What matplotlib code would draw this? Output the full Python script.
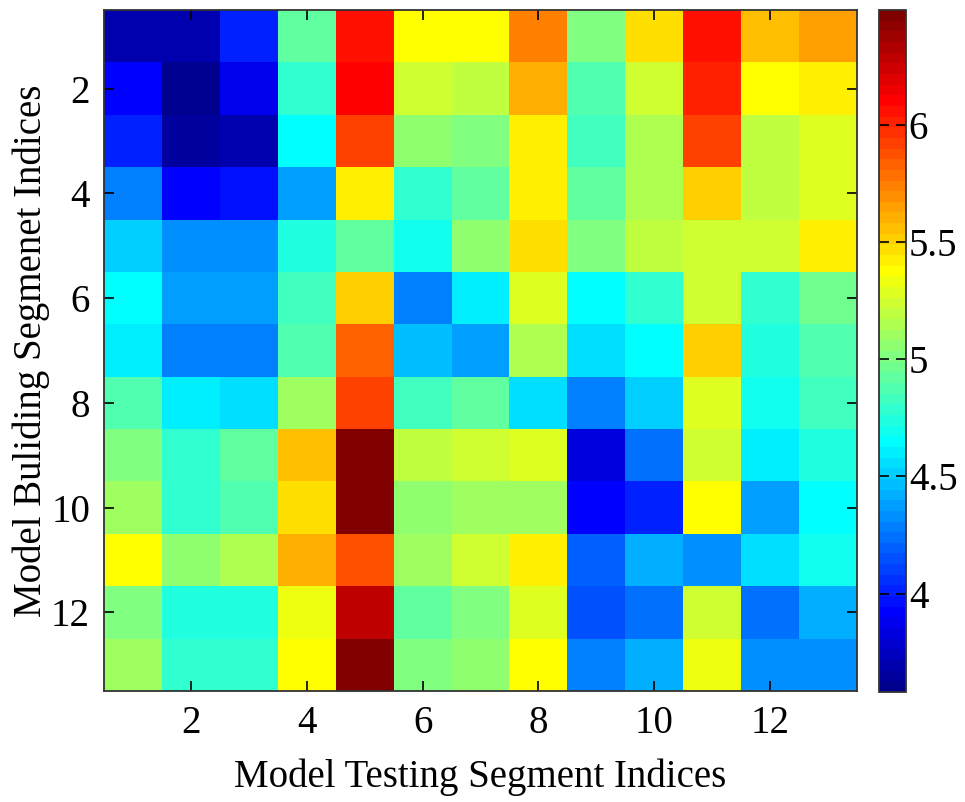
import numpy as np
import matplotlib
matplotlib.use("Agg")
import matplotlib.pyplot as plt
from matplotlib.colors import ListedColormap

plt.rcParams['font.family'] = ['Liberation Serif', 'DejaVu Serif']

# segment indices on both axes
building_idx = np.arange(1, 14)
testing_idx = np.arange(1, 14)

# score for (building segment row, testing segment column)
scores = [
    [3.70, 3.70, 4.02, 4.93, 6.07, 5.39, 5.39, 5.72, 5.02, 5.48, 6.07, 5.58, 5.66],
    [3.93, 3.61, 3.89, 4.80, 6.11, 5.25, 5.21, 5.61, 4.89, 5.25, 6.02, 5.39, 5.43],
    [4.02, 3.66, 3.70, 4.66, 5.93, 5.07, 5.02, 5.43, 4.84, 5.16, 5.93, 5.21, 5.30],
    [4.30, 3.93, 3.98, 4.39, 5.43, 4.80, 4.93, 5.43, 4.93, 5.16, 5.52, 5.21, 5.30],
    [4.52, 4.32, 4.32, 4.75, 4.93, 4.70, 5.07, 5.48, 5.02, 5.21, 5.25, 5.25, 5.43],
    [4.66, 4.39, 4.39, 4.84, 5.52, 4.30, 4.61, 5.30, 4.66, 4.80, 5.25, 4.80, 4.98],
    [4.61, 4.30, 4.30, 4.89, 5.82, 4.48, 4.39, 5.16, 4.57, 4.66, 5.52, 4.75, 4.89],
    [4.89, 4.61, 4.57, 5.11, 5.93, 4.84, 4.93, 4.57, 4.30, 4.52, 5.30, 4.70, 4.84],
    [5.02, 4.80, 4.93, 5.57, 6.47, 5.21, 5.25, 5.30, 3.84, 4.25, 5.25, 4.61, 4.75],
    [5.11, 4.80, 4.89, 5.48, 6.47, 5.07, 5.11, 5.11, 3.93, 4.02, 5.39, 4.39, 4.66],
    [5.39, 5.07, 5.16, 5.61, 5.88, 5.11, 5.25, 5.43, 4.20, 4.43, 4.32, 4.57, 4.70],
    [5.02, 4.75, 4.75, 5.34, 6.29, 4.93, 5.02, 5.30, 4.16, 4.25, 5.25, 4.22, 4.43],
    [5.11, 4.80, 4.80, 5.39, 6.45, 5.02, 5.07, 5.39, 4.30, 4.43, 5.34, 4.34, 4.34],
]

axis_ticks = [2, 4, 6, 8, 10, 12]
cbar_ticks = [4, 4.5, 5, 5.5, 6]
cbar_labels = ['4', '4.5', '5', '5.5', '6']
vmin, vmax = 3.58, 6.49

# 64-level jet, same steps as the MATLAB default
i = np.arange(1, 65)
r = np.clip(np.minimum((i - 24) / 16, (72 - i) / 16), 0, 1)
g = np.clip(np.minimum((i - 8) / 16, (56 - i) / 16), 0, 1)
b = np.clip(np.minimum((i + 8) / 16, (40 - i) / 16), 0, 1)
jet64 = ListedColormap(np.column_stack([r, g, b]))

fig = plt.figure(figsize=(9.65, 8.02), dpi=100)
ax = fig.add_axes([104 / 965, 1 - 691 / 802, 753 / 965, 681 / 802])
cax = fig.add_axes([879 / 965, 1 - 692 / 802, 27 / 965, 682 / 802])

im = ax.pcolormesh(np.append(testing_idx - 0.5, 13.5),
                   np.append(building_idx - 0.5, 13.5),
                   np.array(scores), cmap=jet64, vmin=vmin, vmax=vmax)
ax.set_xlim(0.5, 13.5)
ax.set_ylim(13.5, 0.5)
ax.set_xticks(axis_ticks)
ax.set_yticks(axis_ticks)
ax.tick_params(direction='in', length=7, width=1.2, top=True, right=True,
               labelsize=28, pad=10, colors='black')
ax.set_xlabel('Model Testing Segment Indices', fontsize=28, labelpad=12)
ax.set_ylabel('Model Buliding Segmenet Indices', fontsize=28, labelpad=1)
for s in ax.spines.values():
    s.set_linewidth(1.3)
    s.set_color('#333333')

cb = fig.colorbar(im, cax=cax, ticks=cbar_ticks)
cb.ax.set_yticklabels(cbar_labels)
cb.ax.tick_params(direction='in', length=7, width=1.2, left=True, right=True,
                  labelsize=28, pad=2)
cb.outline.set_linewidth(1.3)
cb.outline.set_edgecolor('#333333')

fig.savefig('out.png', dpi=100)
